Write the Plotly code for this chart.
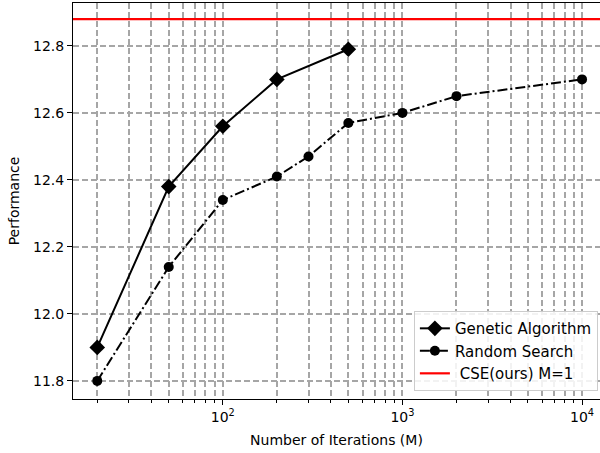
import plotly.graph_objects as go

ga_x = [20, 50, 100, 200, 500]
ga_y = [11.90, 12.38, 12.56, 12.70, 12.79]
rs_x = [20, 50, 100, 200, 300, 500, 1000, 2000, 10000]
rs_y = [11.80, 12.14, 12.34, 12.41, 12.47, 12.57, 12.60, 12.65, 12.70]
cse_y = 12.88
cse_x = [10, 100000]

y_ticks = [11.8, 12.0, 12.2, 12.4, 12.6, 12.8]
x_ticks = [100, 1000, 10000]
x_tick_text = ["10<sup>2</sup>", "10<sup>3</sup>", "10<sup>4</sup>"]
minor_x = [m * 10 ** e for e in (1, 2, 3) for m in range(2, 10)]

FONT = "DejaVu Sans"
GRID = "#a6a6a6"
FS = 14

fig = go.Figure()
fig.add_trace(go.Scatter(
    x=ga_x, y=ga_y, mode="lines+markers", name="Genetic Algorithm",
    line=dict(color="black", width=2),
    marker=dict(symbol="diamond", size=12, color="black"),
))
fig.add_trace(go.Scatter(
    x=rs_x, y=rs_y, mode="lines+markers", name="Random Search",
    line=dict(color="black", width=2, dash="10px,3px,2px,3px"),
    marker=dict(symbol="circle", size=10, color="black"),
))
fig.add_trace(go.Scatter(
    x=cse_x, y=[cse_y, cse_y], mode="lines", name=" CSE(ours) M=1",
    line=dict(color="red", width=2.2),
))

fig.update_layout(
    width=600, height=453,
    margin=dict(l=73, r=0, t=3, b=54),
    paper_bgcolor="white", plot_bgcolor="white",
    font=dict(family=FONT, size=FS, color="black"),
    showlegend=True,
    legend=dict(
        x=0.996, y=0.02, xanchor="right", yanchor="bottom",
        bgcolor="rgba(255,255,255,0.85)", bordercolor="#cccccc", borderwidth=1,
        font=dict(family=FONT, size=15), tracegroupgap=0, itemwidth=30,
    ),
    xaxis=dict(
        type="log", range=[1.166, 4.100], automargin=False,
        tickvals=x_ticks, ticktext=x_tick_text, tickfont=dict(size=FS),
        ticks="outside", ticklen=5, tickcolor="black",
        showline=True, linecolor="black", linewidth=1, mirror=True,
        showgrid=True, gridcolor=GRID, gridwidth=1.5, griddash="6px,3px",
        zeroline=False,
        minor=dict(tickvals=minor_x, ticks="outside", ticklen=3, tickcolor="black",
                   showgrid=True, gridcolor=GRID, gridwidth=1.5, griddash="6px,3px"),
        title=dict(text="Number of Iterations (M)", font=dict(size=FS), standoff=11),
    ),
    yaxis=dict(
        range=[11.746, 12.928], automargin=False,
        tickvals=y_ticks, tickformat=".1f", tickfont=dict(size=FS),
        ticks="outside", ticklen=5, tickcolor="black",
        showline=True, linecolor="black", linewidth=1,
        showgrid=True, gridcolor=GRID, gridwidth=1.5, griddash="6px,3px",
        zeroline=False,
        title=dict(text="Performance", font=dict(size=FS), standoff=10),
    ),
)

fig.write_html("out.html", config={"displayModeBar": False},
               post_script="document.body.style.margin='0';")
